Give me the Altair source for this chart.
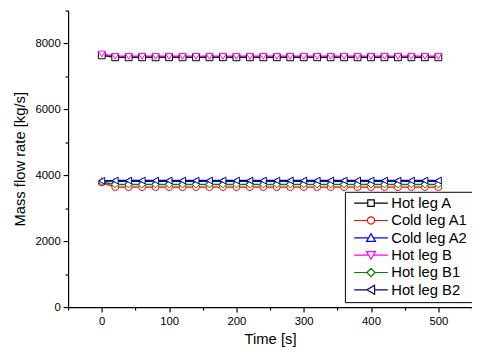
import altair as alt
import pandas as pd

series = ["Hot leg A", "Cold leg A1", "Cold leg A2", "Hot leg B", "Hot leg B1", "Hot leg B2"]
colors = ["#000000", "#FF0000", "#0000FF", "#FF00FF", "#008000", "#000080"]
shapes = ["square", "circle", "triangle-up", "triangle-down", "diamond", "triangle-left"]

time = [0, 20, 40, 60, 80, 100, 120, 140, 160, 180, 200, 220, 240, 260, 280, 300,
        320, 340, 360, 380, 400, 420, 440, 460, 480, 500]
hot_a = [7640] + [7580] * 25
cold_a1 = [3780] + [3640] * 25
cold_a2 = [3830] + [3820] * 25
hot_b = [7680] + [7610] * 25
hot_b1 = [3800] + [3720] * 25
hot_b2 = [3830] + [3840] * 25
values = [hot_a, cold_a1, cold_a2, hot_b, hot_b1, hot_b2]

x_major = [0, 100, 200, 300, 400, 500]
x_minor = [-50, 50, 150, 250, 350, 450, 550]
y_major = [0, 2000, 4000, 6000, 8000]
y_minor = [1000, 3000, 5000, 7000, 9000]

# legend symbols: line stubs + hollow marker (unit = sqrt(size)/2 px)
legend_paths = [
    "M-2.85,0H-0.55M0.55,0H2.85M-0.55,-0.55H0.55V0.55H-0.55Z",
    "M-2.85,0H-0.6M0.6,0H2.85M-0.6,0A0.6,0.6 0 1,0 0.6,0A0.6,0.6 0 1,0 -0.6,0Z",
    "M-2.85,0H-0.4M0.4,0H2.85M0,-0.7L0.75,0.6L-0.75,0.6Z",
    "M-2.85,0H-0.4M0.4,0H2.85M0,0.7L0.75,-0.6L-0.75,-0.6Z",
    "M-2.85,0H-0.7M0.7,0H2.85M0,-0.7L0.7,0L0,0.7L-0.7,0Z",
    "M-2.85,0H-0.7M0.6,0H2.85M-0.7,0L0.6,-0.75L0.6,0.75Z",
]

rows = []
for i, name in enumerate(series):
    for t, v in zip(time, values[i]):
        rows.append({"series": name, "order": i, "time": t, "flow": v})
df = pd.DataFrame(rows)
legend_df = df[df["time"] == 0].copy()

FONT = "Liberation Sans"
xscale = alt.Scale(domain=[-50, 550], nice=False, zero=False)
yscale = alt.Scale(domain=[0, 9000], nice=False)

color_scale = alt.Scale(domain=series, range=colors)

lines = alt.Chart(df).mark_line(strokeWidth=1.5).encode(
    x=alt.X("time:Q", scale=xscale,
            axis=alt.Axis(orient="bottom", values=x_major, title="Time [s]", grid=False,
                          tickSize=5, labelPadding=4, titlePadding=4, format="d")),
    y=alt.Y("flow:Q", scale=yscale,
            axis=alt.Axis(orient="left", values=y_major, title="Mass flow rate [kg/s]", grid=False,
                          tickSize=5, labelPadding=3, titlePadding=8, format="d")),
    color=alt.Color("series:N", scale=color_scale, legend=None),
    detail="order:O",
)

points = alt.Chart(df).mark_point(filled=False, fill="white", size=48, strokeWidth=1, opacity=1).encode(
    x=alt.X("time:Q", scale=xscale, axis=None),
    y=alt.Y("flow:Q", scale=yscale, axis=None),
    color=alt.Color("series:N", scale=color_scale, legend=None),
    shape=alt.Shape("series:N", scale=alt.Scale(domain=series, range=shapes), legend=None),
    order="order:Q",
)

legend_props = dict(title=None, orient="none", legendX=281, legendY=184,
                    symbolSize=144, symbolOffset=15, labelOffset=13,
                    symbolStrokeWidth=1.2, symbolFillColor="white",
                    symbolOpacity=1, rowPadding=1.6, padding=4,
                    labelFontSize=15, labelFont=FONT, labelColor="black",
                    strokeColor="black", fillColor="white")

legend_layer = alt.Chart(legend_df).mark_point(filled=False, opacity=0, size=144).encode(
    x=alt.X("time:Q", scale=xscale,
            axis=alt.Axis(orient="bottom", values=x_minor, labels=False, domain=False,
                          title=None, grid=False, tickSize=3)),
    y=alt.Y("flow:Q", scale=yscale,
            axis=alt.Axis(orient="left", values=y_minor, labels=False, domain=False,
                          title=None, grid=False, tickSize=3)),
    color=alt.Color("series:N", scale=alt.Scale(domain=series, range=colors),
                    legend=alt.Legend(**legend_props)),
    shape=alt.Shape("series:N", scale=alt.Scale(domain=series, range=legend_paths),
                    legend=alt.Legend(**legend_props)),
)

chart = alt.layer(lines, points, legend_layer).resolve_scale(
    color="independent", shape="independent"
).resolve_axis(x="independent", y="independent").properties(
    width=410, height=301,
    autosize=alt.AutoSizeParams(type="none"),
    padding={"left": 61, "top": 0, "right": 0, "bottom": 40},
).configure_view(stroke=None).configure_axis(
    domainColor="black", tickColor="black", labelColor="black", titleColor="black",
    labelFont=FONT, titleFont=FONT, labelFontSize=11.5, titleFontSize=15,
    titleFontWeight="normal", domainWidth=1.2, tickWidth=1.2,
)

chart.save("out.html", embed_options={"renderer": "svg", "actions": False})
